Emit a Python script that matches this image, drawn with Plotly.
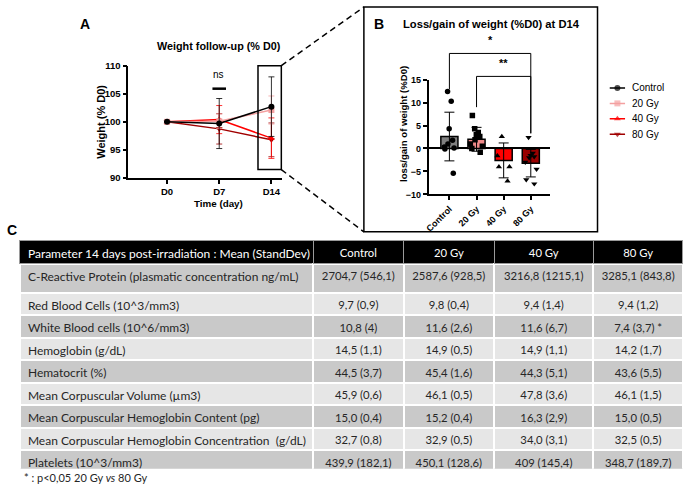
import plotly.graph_objects as go

W, H = 685, 490

# ---------------- Panel A data ----------------
days = ["D0", "D7", "D14"]
groups = ["Control", "20 Gy", "40 Gy", "80 Gy"]
line_colors = ["#000000", "#f4a0a0", "#ff0000", "#a00000"]
bar_colors = ["#808080", "#f08a8a", "#ff0000", "#990000"]
symbols = ["circle", "square", "triangle-up", "triangle-down"]

weight_ctrl = [100, 99.7, 102.7]
weight_20 = [100, 100.1, 102.1]
weight_40 = [100, 100.4, 97.1]
weight_80 = [100, 98.75, 96.8]
sd_ctrl = [0, 4.45, 5.3]
sd_20 = [0, 1.3, 2.5]
sd_40 = [0, 2.5, 3.6]
sd_80 = [0, 2.7, 3.0]

# ---------------- Panel B data ----------------
loss_mean = [2.6, 2.0, -2.6, -3.2]
loss_sd = [5.3, 2.6, 3.8, 3.0]
pts_ctrl = [12.4, 10.3, 4.3, 1.8, 1.0, 0.3, 0.1, -0.1, -5.4]
pts_20 = [7.2, 4.3, 3.5, 3.0, 2.6, 1.9, 1.0, 0.5, 0.0, -0.8]
pts_40 = [2.6, -1.6, -4.0, -4.0, -7.1]
pts_80 = [2.4, -1.0, -1.5, -1.8, -2.0, -3.0, -4.5, -6.8, -7.7]
sig_labels = ["*", "**"]
sig_from = [0, 1]
sig_to = [3, 3]
sig_level = [20.7, 15.7]
sig_left_end = [12.9, 9.0]
sig_right_end = [3.3, 3.3]

# ---------------- Table data ----------------
tbl_header = ["Parameter 14 days post-irradiation : Mean (StandDev)", "Control", "20 Gy", "40 Gy", "80 Gy"]
params = [
    "C-Reactive Protein (plasmatic concentration ng/mL)",
    "Red Blood Cells (10^3/mm3)",
    "White Blood cells (10^6/mm3)",
    "Hemoglobin (g/dL)",
    "Hematocrit (%)",
    "Mean Corpuscular Volume (µm3)",
    "Mean Corpuscular Hemoglobin Content (pg)",
    "Mean Corpuscular Hemoglobin Concentration  (g/dL)",
    "Platelets (10^3/mm3)",
]
col_ctrl = ["2704,7 (546,1)", "9,7 (0,9)", "10,8 (4)", "14,5 (1,1)", "44,5 (3,7)",
            "45,9 (0,6)", "15,0 (0,4)", "32,7 (0,8)", "439,9 (182,1)"]
col_20 = ["2587,6 (928,5)", "9,8 (0,4)", "11,6 (2,6)", "14,9 (0,5)", "45,4 (1,6)",
          "46,1 (0,5)", "15,2 (0,4)", "32,9 (0,5)", "450,1 (128,6)"]
col_40 = ["3216,8 (1215,1)", "9,4 (1,4)", "11,6 (6,7)", "14,9 (1,1)", "44,3 (5,1)",
          "47,8 (3,6)", "16,3 (2,9)", "34,0 (3,1)", "409 (145,4)"]
col_80 = ["3285,1 (843,8)", "9,4 (1,2)", "7,4 (3,7) *", "14,2 (1,7)", "43,6 (5,5)",
          "46,1 (1,5)", "15,0 (0,5)", "32,5 (0,5)", "348,7 (189,7)"]
footnote = "* : p<0,05 20 Gy <i>vs</i> 80 Gy"

# ---------------- layout geometry ----------------
def px(x):
    return x / W

def py(y):
    return 1 - y / H

A_xdom = [px(125), px(280)]
A_ydom = [py(176), py(61)]
A_xr = [-0.743, 2.21]
A_yr = [90, 110]
B_xdom = [px(427), px(549)]
B_ydom = [py(192.7), py(75.3)]
B_xr = [-0.77, 3.7]
B_yr = [-10, 15]
L_xdom = [px(606), px(628)]
L_ydom = [py(139), py(76)]


def a_paper(x, y):
    return (A_xdom[0] + (x - A_xr[0]) / (A_xr[1] - A_xr[0]) * (A_xdom[1] - A_xdom[0]),
            A_ydom[0] + (y - A_yr[0]) / (A_yr[1] - A_yr[0]) * (A_ydom[1] - A_ydom[0]))


def b_ypaper(y):
    return B_ydom[0] + (y - B_yr[0]) / (B_yr[1] - B_yr[0]) * (B_ydom[1] - B_ydom[0])


def nb(s):
    return s.replace(" ", "\u00a0")


FONT = "Liberation Sans"
TFONT = "Lato"
TSIZES = [12.0, 11.3, 11.3, 11.3, 11.3]

fig = go.Figure()

# ---------------- Panel A traces ----------------
weights = [weight_ctrl, weight_20, weight_40, weight_80]
sds = [sd_ctrl, sd_20, sd_40, sd_80]
for i in [3, 2, 1, 0]:
    fig.add_trace(go.Scatter(
        x=days, y=weights[i], name=groups[i], mode="lines+markers",
        line=dict(color=line_colors[i], width=1.5),
        marker=dict(symbol=symbols[i], size=6, color=line_colors[i]),
        error_y=dict(type="data", array=sds[i], color=line_colors[i], thickness=0.8, width=3),
        xaxis="x", yaxis="y", showlegend=False, cliponaxis=False,
    ))

# ---------------- Legend (guide) ----------------
for i in range(4):
    fig.add_trace(go.Scatter(
        x=[0.15, 0.5, 0.85], y=[i, i, i], mode="lines+markers",
        line=dict(color=line_colors[i], width=1.5),
        marker=dict(symbol=symbols[i], size=[0, 6, 0], color=line_colors[i], line=dict(width=0)),
        xaxis="x3", yaxis="y3", showlegend=False, hoverinfo="skip", cliponaxis=False,
    ))

# ---------------- Panel B traces ----------------
fig.add_trace(go.Bar(
    x=groups, y=loss_mean, marker=dict(color=bar_colors, line=dict(color="black", width=1.5)),
    width=0.63,
    error_y=dict(type="data", array=loss_sd, color="black", thickness=1, width=5),
    xaxis="x2", yaxis="y2", showlegend=False,
))
pts = [pts_ctrl, pts_20, pts_40, pts_80]
for i in range(4):
    fig.add_trace(go.Box(
        x=[groups[i]] * len(pts[i]), y=pts[i], boxpoints="all", jitter=1, pointpos=0,
        width=0.55, fillcolor="rgba(0,0,0,0)", line=dict(width=0, color="rgba(0,0,0,0)"),
        whiskerwidth=0,
        marker=dict(symbol=symbols[i], size=5.5, color="black"),
        xaxis="x2", yaxis="y2", showlegend=False,
    ))

# ---------------- Tables ----------------
cols_all = [[nb(v) for v in c] for c in [params, col_ctrl, col_20, col_40, col_80]]
aligns = ["left", "center", "center", "center", "center"]
colw = [295, 91, 91, 100, 90]
dark, light = "#c9c9c9", "#e6e6e6"
row_fill = [dark if k % 2 == 0 else light for k in range(len(params))]
cell_font = dict(family=TFONT, size=TSIZES, color="#262626")

fig.add_trace(go.Table(
    domain=dict(x=[px(16), px(683)], y=[py(294), py(240)]),
    columnwidth=colw,
    header=dict(values=[nb(h) for h in tbl_header], fill_color="black", align=aligns, height=23.3,
                font=dict(family=TFONT, size=TSIZES, color="white"),
                line=dict(color="#9a9a9a", width=1)),
    cells=dict(values=[[c[0]] for c in cols_all], fill_color=[[row_fill[0]]] * 5, align=aligns,
               height=30, font=cell_font, line=dict(color="white", width=2)),
))
fig.add_trace(go.Table(
    domain=dict(x=[px(16), px(683)], y=[py(474), py(293.3)]),
    columnwidth=colw,
    header=dict(values=[c[1] for c in cols_all], fill_color=row_fill[1], align=aligns, height=22.5,
                font=cell_font, line=dict(color="white", width=2)),
    cells=dict(values=[c[2:] for c in cols_all], fill_color=[row_fill[2:]] * 5, align=aligns,
               height=22.5, font=cell_font, line=dict(color="white", width=2)),
))

# ---------------- Axes ----------------
tickA = dict(family=FONT, size=9.5, color="black", weight="bold")
tickB = dict(family=FONT, size=9, color="black", weight="bold")
common = dict(showline=True, linecolor="black", linewidth=1.5, ticks="outside", ticklen=4,
              tickwidth=1.5, tickcolor="black", showgrid=False)
fig.update_layout(
    width=W, height=H, margin=dict(l=0, r=0, t=0, b=0),
    paper_bgcolor="white", plot_bgcolor="white",
    barmode="overlay", boxmode="overlay", showlegend=False,
    xaxis=dict(domain=A_xdom, range=A_xr, type="category", tickfont=tickA, zeroline=False,
               anchor="y", **common),
    yaxis=dict(domain=A_ydom, range=A_yr, tickvals=[90, 95, 100, 105, 110], tickfont=tickA,
               zeroline=False, anchor="x", **common),
    xaxis2=dict(domain=B_xdom, range=B_xr, type="category", tickfont=tickB, tickangle=-45,
                zeroline=False, anchor="y2", **common),
    yaxis2=dict(domain=B_ydom, range=B_yr, tickvals=[-10, -5, 0, 5, 10, 15], tickfont=tickB,
                zeroline=True, zerolinecolor="black", zerolinewidth=1.5, anchor="x2", **common),
    xaxis3=dict(domain=L_xdom, range=[0, 1], visible=False, fixedrange=True, anchor="y3"),
    yaxis3=dict(domain=L_ydom, range=[3.5, -0.5], visible=False, fixedrange=True, anchor="x3"),
)

# ---------------- Shapes ----------------
shapes = []
rx0, ry0 = a_paper(1.743, 91.5)
rx1, ry1 = a_paper(2.19, 110)
shapes.append(dict(type="rect", xref="paper", yref="paper", x0=rx0, y0=ry0, x1=rx1, y1=ry1,
                   line=dict(color="black", width=1.5)))
bx0, by0, bx1, by1 = px(362), py(231), px(597), py(1)
shapes.append(dict(type="rect", xref="paper", yref="paper", x0=bx0, y0=by0, x1=bx1, y1=by1,
                   line=dict(color="black", width=1.5)))
shapes.append(dict(type="line", xref="paper", yref="paper", x0=rx1, y0=ry1, x1=bx0, y1=by1,
                   line=dict(color="black", width=1.5, dash="6px,4px")))
shapes.append(dict(type="line", xref="paper", yref="paper", x0=rx1, y0=ry0, x1=bx0, y1=by0,
                   line=dict(color="black", width=1.5, dash="6px,4px")))
nx0, ny = a_paper(0.87, 105.9)
nx1, _ = a_paper(1.13, 105.9)
shapes.append(dict(type="line", xref="paper", yref="paper", x0=nx0, y0=ny, x1=nx1, y1=ny,
                   line=dict(color="black", width=2.5)))
for k in range(len(sig_labels)):
    yl = b_ypaper(sig_level[k])
    shapes.append(dict(type="path", xref="x2", yref="paper",
                       path=f"M {sig_from[k]},{b_ypaper(sig_left_end[k])} L {sig_from[k]},{yl} "
                            f"L {sig_to[k]},{yl} L {sig_to[k]},{b_ypaper(sig_right_end[k])}",
                       line=dict(color="black", width=1)))
fig.update_layout(shapes=shapes)

# ---------------- Annotations ----------------
ann = []
def text(x, y, s, size, bold=True, angle=0, family=FONT, xanchor="center", color="black"):
    ann.append(dict(x=x, y=y, xref="paper", yref="paper", text=s, showarrow=False,
                    xanchor=xanchor, yanchor="middle", textangle=angle,
                    font=dict(family=family, size=size, color=color,
                              weight="bold" if bold else "normal")))

text(px(81), py(18), "A", 14)
text(px(377), py(18), "B", 14)
text(px(8), py(229), "C", 14)
text(px(216), py(41), "Weight follow-up (% D0)", 10.8)
text(px(216), py(202), "Time (day)", 9.8)
text(px(98), py(118), "Weight (% D0)", 11, angle=-90)
text(px(216), py(70), "ns", 10, bold=False)
text(px(490), py(18), "Loss/gain of weight (%D0) at D14", 11.2)
text(px(402), py(121), "loss/gain of weight (%D0)", 9.6, angle=-90)
for k in range(len(sig_labels)):
    mid = (sig_from[k] + sig_to[k]) / 2
    ann.append(dict(x=mid, y=b_ypaper(sig_level[k]) + 0.012, xref="x2", yref="paper",
                    text=sig_labels[k], showarrow=False, yanchor="bottom",
                    font=dict(family=FONT, size=11, color="black", weight="bold")))
for i in range(4):
    ann.append(dict(x=1, y=i, xref="x3", yref="y3", text=groups[i], showarrow=False,
                    xanchor="left", yanchor="middle", xshift=2,
                    font=dict(family=FONT, size=10, color="black")))
text(px(18), py(482), footnote, 11, bold=False, family=TFONT, xanchor="left", color="#262626")
fig.update_layout(annotations=ann)

fig.write_html("out.html", config=dict(displayModeBar=False),
               post_script="document.body.style.margin='0';")
